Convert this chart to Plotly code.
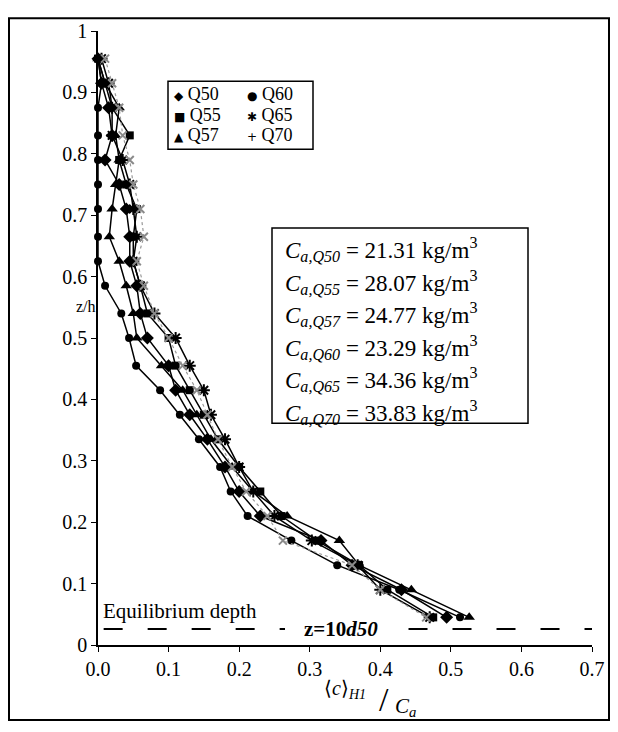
import plotly.graph_objects as go

# ---------------- data ----------------
z_levels = [0.955, 0.915, 0.875, 0.83, 0.79, 0.75, 0.71, 0.665, 0.625, 0.585, 0.54, 0.50,
            0.455, 0.415, 0.375, 0.335, 0.29, 0.25, 0.21, 0.17, 0.13, 0.09, 0.045]

q50 = [0.0, 0.005, 0.015, 0.02, 0.01, 0.03, 0.04, 0.045, 0.045, 0.055, 0.06, 0.07,
       0.10, 0.11, 0.13, 0.155, 0.18, 0.20, 0.23, 0.316, 0.36, 0.43, 0.494]
q55 = [0.0, 0.01, 0.02, 0.045, 0.03, 0.04, 0.055, 0.05, 0.05, 0.06, 0.07, 0.10,
       0.11, 0.13, 0.15, 0.17, 0.20, 0.23, 0.26, 0.31, 0.37, 0.41, 0.475]
q57 = [0.0, 0.01, 0.03, 0.025, 0.03, 0.025, 0.02, 0.016, 0.03, 0.04, 0.05, 0.055,
       0.09, 0.12, 0.14, 0.16, 0.19, 0.22, 0.268, 0.342, 0.37, 0.444, 0.526]
q60 = [0.0, 0.005, 0.0, 0.0, 0.0, 0.0, 0.0, 0.0, 0.0, 0.01, 0.033, 0.044,
       0.054, 0.088, 0.116, 0.143, 0.173, 0.188, 0.212, 0.274, 0.339, 0.427, 0.513]
q65 = [0.005, 0.015, 0.02, 0.02, 0.035, 0.045, 0.05, 0.055, 0.05, 0.06, 0.08, 0.11,
       0.13, 0.15, 0.16, 0.18, 0.20, 0.22, 0.25, 0.303, 0.368, 0.40, 0.47]
q70 = [0.01, 0.02, 0.03, 0.035, 0.045, 0.05, 0.06, 0.065, 0.055, 0.065, 0.08, 0.10,
       0.12, 0.14, 0.155, 0.17, 0.19, 0.21, 0.24, 0.262, 0.36, 0.40, 0.465]

series_names = ["Q50", "Q55", "Q57", "Q60", "Q65", "Q70"]
ca_values = ["21.31", "28.07", "24.77", "23.29", "34.36", "33.83"]

eq_depth = 0.026
x_ticks = [0.0, 0.1, 0.2, 0.3, 0.4, 0.5, 0.6, 0.7]
y_ticks = [0, 0.1, 0.2, 0.3, 0.4, 0.5, 0.6, 0.7, 0.8, 0.9, 1]
y_tick_text = ["0", "0.1", "0.2", "0.3", "0.4", "0.5", "0.6", "0.7", "0.8", "0.9", "1"]

# ---------------- layout helpers ----------------
OFF = 8                      # page body margin offset
W, H = 610, 724
L, R, T, B = 90, 26, 14, 87
PW, PH = W - L - R, H - T - B


def pxp(xp, yp):
    """window pixel -> paper coordinates"""
    return ((xp - OFF) - L) / PW, (H - B - (yp - OFF)) / PH


SERIF = "Liberation Serif"

fig = go.Figure()

styles = {
    "Q50": dict(symbol="diamond", size=10, color="black", lc="black", lw=1.5, dash="solid"),
    "Q55": dict(symbol="square", size=8, color="black", lc="black", lw=1.5, dash="solid"),
    "Q57": dict(symbol="triangle-up", size=10, color="black", lc="black", lw=1.5, dash="solid"),
    "Q60": dict(symbol="circle", size=8, color="black", lc="black", lw=1.5, dash="solid"),
    "Q65": dict(symbol="asterisk-open", size=10, color="black", lc="black", lw=1.5, dash="solid"),
    "Q70": dict(symbol="x-thin-open", size=8, color="#8a8a8a", lc="#9a9a9a", lw=1.2, dash="dot"),
}
data = {"Q50": q50, "Q55": q55, "Q57": q57, "Q60": q60, "Q65": q65, "Q70": q70}

for name in series_names:
    s = styles[name]
    marker = dict(symbol=s["symbol"], size=s["size"], color=s["color"])
    if s["symbol"].endswith("open"):
        marker["line"] = dict(color=s["color"], width=2)
    fig.add_trace(go.Scatter(
        x=data[name], y=z_levels, mode="lines+markers", name=name,
        line=dict(color=s["lc"], width=s["lw"], dash=s["dash"]),
        marker=marker, showlegend=False, cliponaxis=False,
    ))

# equilibrium-depth dashed line (two pieces around the label)
for x0, x1 in [(0.008, 0.265), (0.44, 0.7)]:
    fig.add_shape(type="line", xref="x", yref="y", x0=x0, x1=x1, y0=eq_depth, y1=eq_depth,
                  line=dict(color="black", width=2, dash="19px,25px"))

fig.add_annotation(xref="x", yref="y", x=0.004, y=eq_depth + 0.006, text="Equilibrium depth",
                   showarrow=False, xanchor="left", yanchor="bottom",
                   font=dict(family=SERIF, size=21, color="black"))
fig.add_annotation(xref="x", yref="y", x=0.345, y=eq_depth, text="<b>z=10<i>d50</i></b>",
                   showarrow=False, xanchor="center", yanchor="middle",
                   font=dict(family=SERIF, size=21, color="black"))

# legend box (manual)
lx0, ly0 = pxp(168, 73)
lx1, ly1 = pxp(313, 142)
fig.add_shape(type="rect", xref="paper", yref="paper", x0=lx0, y0=ly0, x1=lx1, y1=ly1,
              line=dict(color="black", width=1.5), fillcolor="white", layer="above")
legend_items = [("◆", "Q50", 172, 86), ("●", "Q60", 245, 86),
                ("■", "Q55", 172, 107), ("✱", "Q65", 245, 107),
                ("▲", "Q57", 172, 128), ("+", "Q70", 245, 128)]
for sym, lab, xp, yp in legend_items:
    xx, yy = pxp(xp, yp)
    fig.add_annotation(xref="paper", yref="paper", x=xx, y=yy, xanchor="left", yanchor="middle",
                       text=f"<span style='font-family:DejaVu Sans;font-size:12px'>{sym}</span> {lab}",
                       showarrow=False, font=dict(family=SERIF, size=18, color="black"))

# Ca box
bx0, by0 = pxp(272, 222)
bx1, by1 = pxp(528, 420)
fig.add_shape(type="rect", xref="paper", yref="paper", x0=bx0, y0=by0, x1=bx1, y1=by1,
              line=dict(color="black", width=1.5), fillcolor="white", layer="below")
for i, (nm, val) in enumerate(zip(series_names, ca_values)):
    xx, yy = pxp(283, 244 + i * 33)
    fig.add_annotation(xref="paper", yref="paper", x=xx, y=yy, xanchor="left", yanchor="middle",
                       text=f"<i>C</i><sub><i>a,{nm}</i></sub> = {val} kg/m<sup>3</sup>",
                       showarrow=False, font=dict(family=SERIF, size=23, color="black"))

# axis titles
xx, yy = pxp(86, 302)
fig.add_annotation(xref="paper", yref="paper", x=xx, y=yy, text="z/h", showarrow=False,
                   xanchor="center", yanchor="middle", font=dict(family=SERIF, size=16, color="black"))
xx, yy = pxp(368, 690)
fig.add_annotation(xref="paper", yref="paper", x=xx, y=yy, text="⟨<i>c</i>⟩<sub><i>H1</i></sub>",
                   showarrow=False, xanchor="right", yanchor="middle",
                   font=dict(family=SERIF, size=20, color="black"))
xx, yy = pxp(384, 700)
fig.add_annotation(xref="paper", yref="paper", x=xx, y=yy, text="/", showarrow=False,
                   xanchor="center", yanchor="middle", font=dict(family=SERIF, size=34, color="black"))
xx, yy = pxp(405, 708)
fig.add_annotation(xref="paper", yref="paper", x=xx, y=yy, text="<i>C</i><sub><i>a</i></sub>",
                   showarrow=False, xanchor="center", yanchor="middle",
                   font=dict(family=SERIF, size=21, color="black"))

# outer frame
fx0, fy0 = pxp(9, 9)
fx1, fy1 = pxp(609, 721)
fig.add_shape(type="rect", xref="paper", yref="paper", x0=fx0, y0=fy1, x1=fx1, y1=fy0,
              line=dict(color="black", width=2))

fig.update_layout(
    width=W, height=H, margin=dict(l=L, r=R, t=T, b=B, pad=0),
    paper_bgcolor="white", plot_bgcolor="white", showlegend=False,
    font=dict(family=SERIF, size=18, color="black"),
)
fig.update_xaxes(range=[0, 0.7], tickvals=x_ticks, ticktext=[f"{v:.1f}" for v in x_ticks],
                 showgrid=False, zeroline=False, showline=True, linecolor="black", linewidth=1.5,
                 ticks="outside", ticklen=5, tickcolor="black", tickfont=dict(family=SERIF, size=20))
fig.update_yaxes(range=[0, 1], tickvals=y_ticks, ticktext=y_tick_text,
                 showgrid=False, zeroline=False, showline=True, linecolor="black", linewidth=1.5,
                 ticks="outside", ticklen=5, tickcolor="black", tickfont=dict(family=SERIF, size=20))

fig.write_html("out.html")
